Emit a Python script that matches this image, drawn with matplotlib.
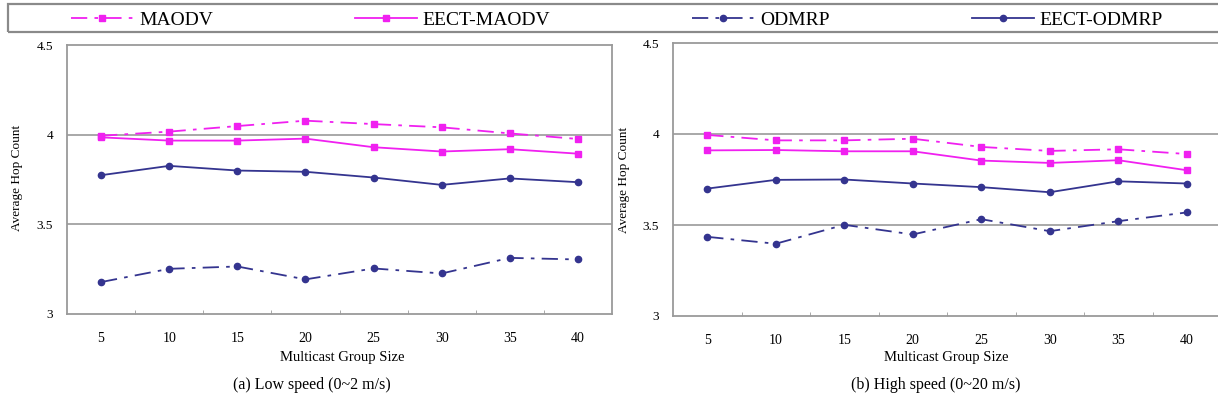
import matplotlib
matplotlib.use("Agg")
import matplotlib.pyplot as plt
from matplotlib.ticker import FixedLocator
from matplotlib.patches import Rectangle

plt.rcParams['font.family'] = ['Liberation Serif', 'DejaVu Serif']

group_sizes = ["5", "10", "15", "20", "25", "30", "35", "40"]
series_names = ["MAODV", "EECT-MAODV", "ODMRP", "EECT-ODMRP"]

# (a) Low speed
low_maodv = [3.994, 4.017, 4.048, 4.078, 4.059, 4.041, 4.007, 3.976]
low_eect_maodv = [3.985, 3.967, 3.967, 3.978, 3.930, 3.906, 3.919, 3.894]
low_odmrp = [3.178, 3.252, 3.265, 3.193, 3.254, 3.226, 3.313, 3.304]
low_eect_odmrp = [3.774, 3.826, 3.800, 3.793, 3.761, 3.720, 3.756, 3.735]

# (b) High speed
high_maodv = [3.995, 3.965, 3.965, 3.974, 3.929, 3.907, 3.916, 3.890]
high_eect_maodv = [3.910, 3.912, 3.905, 3.905, 3.854, 3.841, 3.856, 3.801]
high_odmrp = [3.435, 3.397, 3.501, 3.448, 3.532, 3.466, 3.521, 3.569]
high_eect_odmrp = [3.700, 3.748, 3.750, 3.728, 3.708, 3.680, 3.740, 3.728]

y_ticks = [3, 3.5, 4, 4.5]
y_tick_labels = ["3", "3.5", "4", "4.5"]

PINK = "#F020F0"
NAVY = "#34348F"
GRAY = "#9A9A9A"
DASHDOT = (0, (9, 4, 2, 4))

W, H = 1218, 407
fig = plt.figure(figsize=(W / 100, H / 100), dpi=100)

ax1 = fig.add_axes([67 / W, 1 - 314 / H, (612 - 67) / W, (314 - 45) / H])
ax2 = fig.add_axes([673 / W, 1 - 316 / H, (1221 - 673) / W, (316 - 43) / H])

x = list(range(len(group_sizes)))

def draw(ax, maodv, eect_maodv, odmrp, eect_odmrp):
    h1, = ax.plot(x, maodv, color=PINK, linestyle=DASHDOT, lw=1.3,
                  marker='s', ms=5, label=series_names[0])
    h2, = ax.plot(x, eect_maodv, color=PINK, linestyle='-', lw=1.3,
                  marker='s', ms=5, label=series_names[1])
    h3, = ax.plot(x, odmrp, color=NAVY, linestyle=DASHDOT, lw=1.3,
                  marker='o', ms=4.5, label=series_names[2])
    h4, = ax.plot(x, eect_odmrp, color=NAVY, linestyle='-', lw=1.3,
                  marker='o', ms=4.5, label=series_names[3])
    ax.set_xlim(-0.5, len(group_sizes) - 0.5)
    ax.set_ylim(3, 4.5)
    ax.set_xticks(x)
    ax.set_xticklabels(group_sizes, fontsize=10)
    ax.xaxis.set_minor_locator(FixedLocator([i + 0.5 for i in range(len(group_sizes) - 1)]))
    ax.tick_params(axis='x', which='major', length=0, pad=13)
    ax.tick_params(axis='x', which='minor', length=3, direction='in', color=GRAY)
    ax.set_yticks(y_ticks)
    ax.set_yticklabels(y_tick_labels, fontsize=9.5)
    ax.tick_params(axis='y', length=0, pad=10)
    for yv in [3.5, 4]:
        ax.axhline(yv, color=GRAY, lw=1.2, zorder=0)
    for s in ax.spines.values():
        s.set_color(GRAY)
        s.set_linewidth(1.3)
    return [h1, h2, h3, h4]

handles = draw(ax1, low_maodv, low_eect_maodv, low_odmrp, low_eect_odmrp)
draw(ax2, high_maodv, high_eect_maodv, high_odmrp, high_eect_odmrp)
ax2.spines['right'].set_visible(False)

# axis labels
fig.text(17 / W, 1 - 178 / H, "Average Hop Count", rotation=90, fontsize=9.5,
         ha='center', va='center')
fig.text(624 / W, 1 - 180 / H, "Average Hop Count", rotation=90, fontsize=9.5,
         ha='center', va='center')
fig.text(342 / W, 1 - 358 / H, "Multicast Group Size", fontsize=10.5,
         ha='center', va='center')
fig.text(946 / W, 1 - 358 / H, "Multicast Group Size", fontsize=10.5,
         ha='center', va='center')

# captions
fig.text(312 / W, 1 - 385 / H, "(a) Low speed (0~2 m/s)", fontsize=11.5,
         ha='center', va='center')
fig.text(936 / W, 1 - 385 / H, "(b) High speed (0~20 m/s)", fontsize=11.5,
         ha='center', va='center')

# legend box
fig.patches.append(Rectangle((8 / W, 1 - 32 / H), (1222 - 8) / W, 28 / H,
                             transform=fig.transFigure, fill=False,
                             edgecolor='#8A8A8A', linewidth=1.6))
fig.legend(handles, series_names, loc='lower left', ncol=4, mode='expand',
           bbox_to_anchor=(68 / W, 1 - 32 / H, (1166 - 68) / W, 28 / H),
           borderaxespad=0, fontsize=14, handlelength=3.2, handletextpad=0.3,
           frameon=False, borderpad=0.15)

fig.savefig("out.png", dpi=100)
